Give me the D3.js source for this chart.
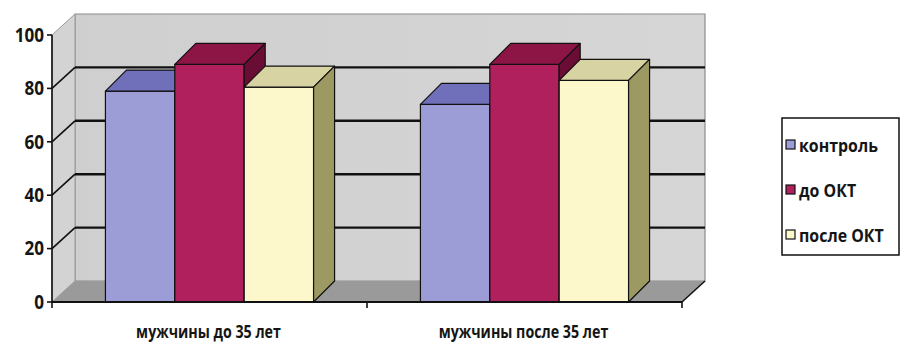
<!DOCTYPE html>
<html>
<head>
<meta charset="utf-8">
<script src="https://cdn.jsdelivr.net/npm/d3@7/dist/d3.min.js"></script>
<style>
  html, body { margin: 0; padding: 0; background: #ffffff; }
  svg { display: block; }
  text { font-family: "Open Sans", Lato, sans-serif; font-weight: bold; fill: #151515; }
</style>
</head>
<body>
<svg id="chart" width="900" height="345"></svg>
<script>
// Data
const categories = ["мужчины до 35 лет", "мужчины после 35 лет"];
const seriesNames = ["контроль", "до ОКТ", "после ОКТ"];
const control = [79, 74];
const beforeOKT = [89, 89];
const afterOKT = [80.5, 83];
const yTicks = [0, 20, 40, 60, 80, 100];

const seriesValues = [control, beforeOKT, afterOKT];
// face colours per series: front, top, side
const palette = [
  { front: "#9c9cd6", top: "#6f6fba", side: "#55559a" },
  { front: "#b0205c", top: "#8c1546", side: "#6a0d34" },
  { front: "#fdf8cc", top: "#d8d3a2", side: "#9c9a62" }
];

const svg = d3.select("#chart");

// plot geometry
const x0 = 52, x1 = 682, yBottom = 302, yTop = 35;
const depthX = 23, depthY = 21;      // 3-D offset of the back plane
const barDX = 21, barDY = 21;        // 3-D depth of each column

const y = d3.scaleLinear().domain([0, 100]).range([yBottom, yTop]);
const xCat = d3.scaleBand().domain(categories).range([x0, x1]).paddingInner(0).paddingOuter(0);
const xSer = d3.scaleBand().domain(seriesNames).range([0, xCat.bandwidth()]).paddingInner(0).paddingOuter(0.77);

const poly = pts => pts.map(p => p.join(",")).join(" ");

// walls
const walls = svg.append("g");
const bwGrad = svg.append("defs").append("linearGradient")
  .attr("id", "backWall").attr("x1", 0).attr("y1", 0).attr("x2", 1).attr("y2", 0);
bwGrad.append("stop").attr("offset", "0%").attr("stop-color", "#cfcfcf");
bwGrad.append("stop").attr("offset", "100%").attr("stop-color", "#d6d6d6");

// back wall
walls.append("polygon")
  .attr("points", poly([[x0 + depthX, y(100) - depthY], [x1 + depthX, y(100) - depthY],
                        [x1 + depthX, y(0) - depthY], [x0 + depthX, y(0) - depthY]]))
  .attr("fill", "url(#backWall)").attr("stroke", "#8c8c8c").attr("stroke-width", 1.2);
// side wall
walls.append("polygon")
  .attr("points", poly([[x0, y(100)], [x0 + depthX, y(100) - depthY],
                        [x0 + depthX, y(0) - depthY], [x0, y(0)]]))
  .attr("fill", "#d3d3d3").attr("stroke", "#9a9a9a").attr("stroke-width", 1);
// floor
walls.append("polygon")
  .attr("points", poly([[x0, y(0)], [x1, y(0)], [x1 + depthX, y(0) - depthY], [x0 + depthX, y(0) - depthY]]))
  .attr("fill", "#9a9a9a");
walls.append("line")
  .attr("x1", x1).attr("y1", y(0)).attr("x2", x1 + depthX).attr("y2", y(0) - depthY)
  .attr("stroke", "#111").attr("stroke-width", 1.5);

// gridlines on back and side walls
const grid = svg.append("g");
yTicks.filter(t => t > 0 && t < 100).forEach(t => {
  grid.append("line")
    .attr("x1", x0 + depthX).attr("x2", x1 + depthX)
    .attr("y1", y(t) - depthY).attr("y2", y(t) - depthY)
    .attr("stroke", "#111").attr("stroke-width", 2.4);
  grid.append("line")
    .attr("x1", x0).attr("y1", y(t))
    .attr("x2", x0 + depthX).attr("y2", y(t) - depthY)
    .attr("stroke", "#111").attr("stroke-width", 1.6);
});

// columns, drawn left to right so later faces overlap earlier side faces
const bars = svg.append("g");
categories.forEach((cat, ci) => {
  seriesNames.forEach((s, si) => {
    const v = seriesValues[si][ci];
    const c = palette[si];
    const bx = xCat(cat) + xSer(s);
    const bw = xSer.bandwidth();
    const top = y(v), bot = y(0);
    const g = bars.append("g").attr("stroke", "#111").attr("stroke-width", 1.2).attr("stroke-linejoin", "round");
    g.append("polygon").attr("fill", c.front)
      .attr("points", poly([[bx, top], [bx + bw, top], [bx + bw, bot], [bx, bot]]));
    g.append("polygon").attr("fill", c.top)
      .attr("points", poly([[bx, top], [bx + barDX, top - barDY], [bx + bw + barDX, top - barDY], [bx + bw, top]]));
    g.append("polygon").attr("fill", c.side)
      .attr("points", poly([[bx + bw, top], [bx + bw + barDX, top - barDY], [bx + bw + barDX, bot - barDY], [bx + bw, bot]]));
  });
});

// value axis
const yAxis = svg.append("g");
yAxis.append("line").attr("x1", x0).attr("x2", x0).attr("y1", y(100)).attr("y2", y(0))
  .attr("stroke", "#111").attr("stroke-width", 1.6);
yTicks.forEach(t => {
  yAxis.append("line").attr("x1", x0 - 5).attr("x2", x0).attr("y1", y(t)).attr("y2", y(t))
    .attr("stroke", "#111").attr("stroke-width", 1.6);
  yAxis.append("text")
    .attr("transform", `translate(${x0 - 8},${y(t)}) scale(0.9,1)`)
    .attr("dy", "0.36em").attr("text-anchor", "end").attr("font-size", 19).text(t);
});

// category axis
const xAxis = svg.append("g");
xAxis.append("line").attr("x1", x0).attr("x2", x1).attr("y1", y(0)).attr("y2", y(0))
  .attr("stroke", "#111").attr("stroke-width", 2.2);
[x0, xCat(categories[1]), x1].forEach(px => {
  xAxis.append("line").attr("x1", px).attr("x2", px).attr("y1", y(0)).attr("y2", y(0) + 6)
    .attr("stroke", "#111").attr("stroke-width", 1.6);
});
categories.forEach(cat => {
  xAxis.append("text")
    .attr("transform", `translate(${xCat(cat) + xCat.bandwidth() / 2 - 1},338) scale(0.77,1)`)
    .attr("text-anchor", "middle").attr("font-size", 18.5).text(cat);
});

// legend
const legend = svg.append("g");
legend.append("rect").attr("x", 782).attr("y", 118).attr("width", 117).attr("height", 137)
  .attr("fill", "#fff").attr("stroke", "#111").attr("stroke-width", 1.5);
seriesNames.forEach((s, i) => {
  const cy = 145 + i * 45;
  legend.append("rect").attr("x", 786).attr("y", cy - 5).attr("width", 9).attr("height", 9)
    .attr("fill", palette[i].front).attr("stroke", "#111").attr("stroke-width", 1.2);
  legend.append("text")
    .attr("transform", `translate(799,${cy}) scale(0.86,1)`)
    .attr("dy", "0.36em").attr("font-size", 18.5).text(s);
});
</script>
</body>
</html>
